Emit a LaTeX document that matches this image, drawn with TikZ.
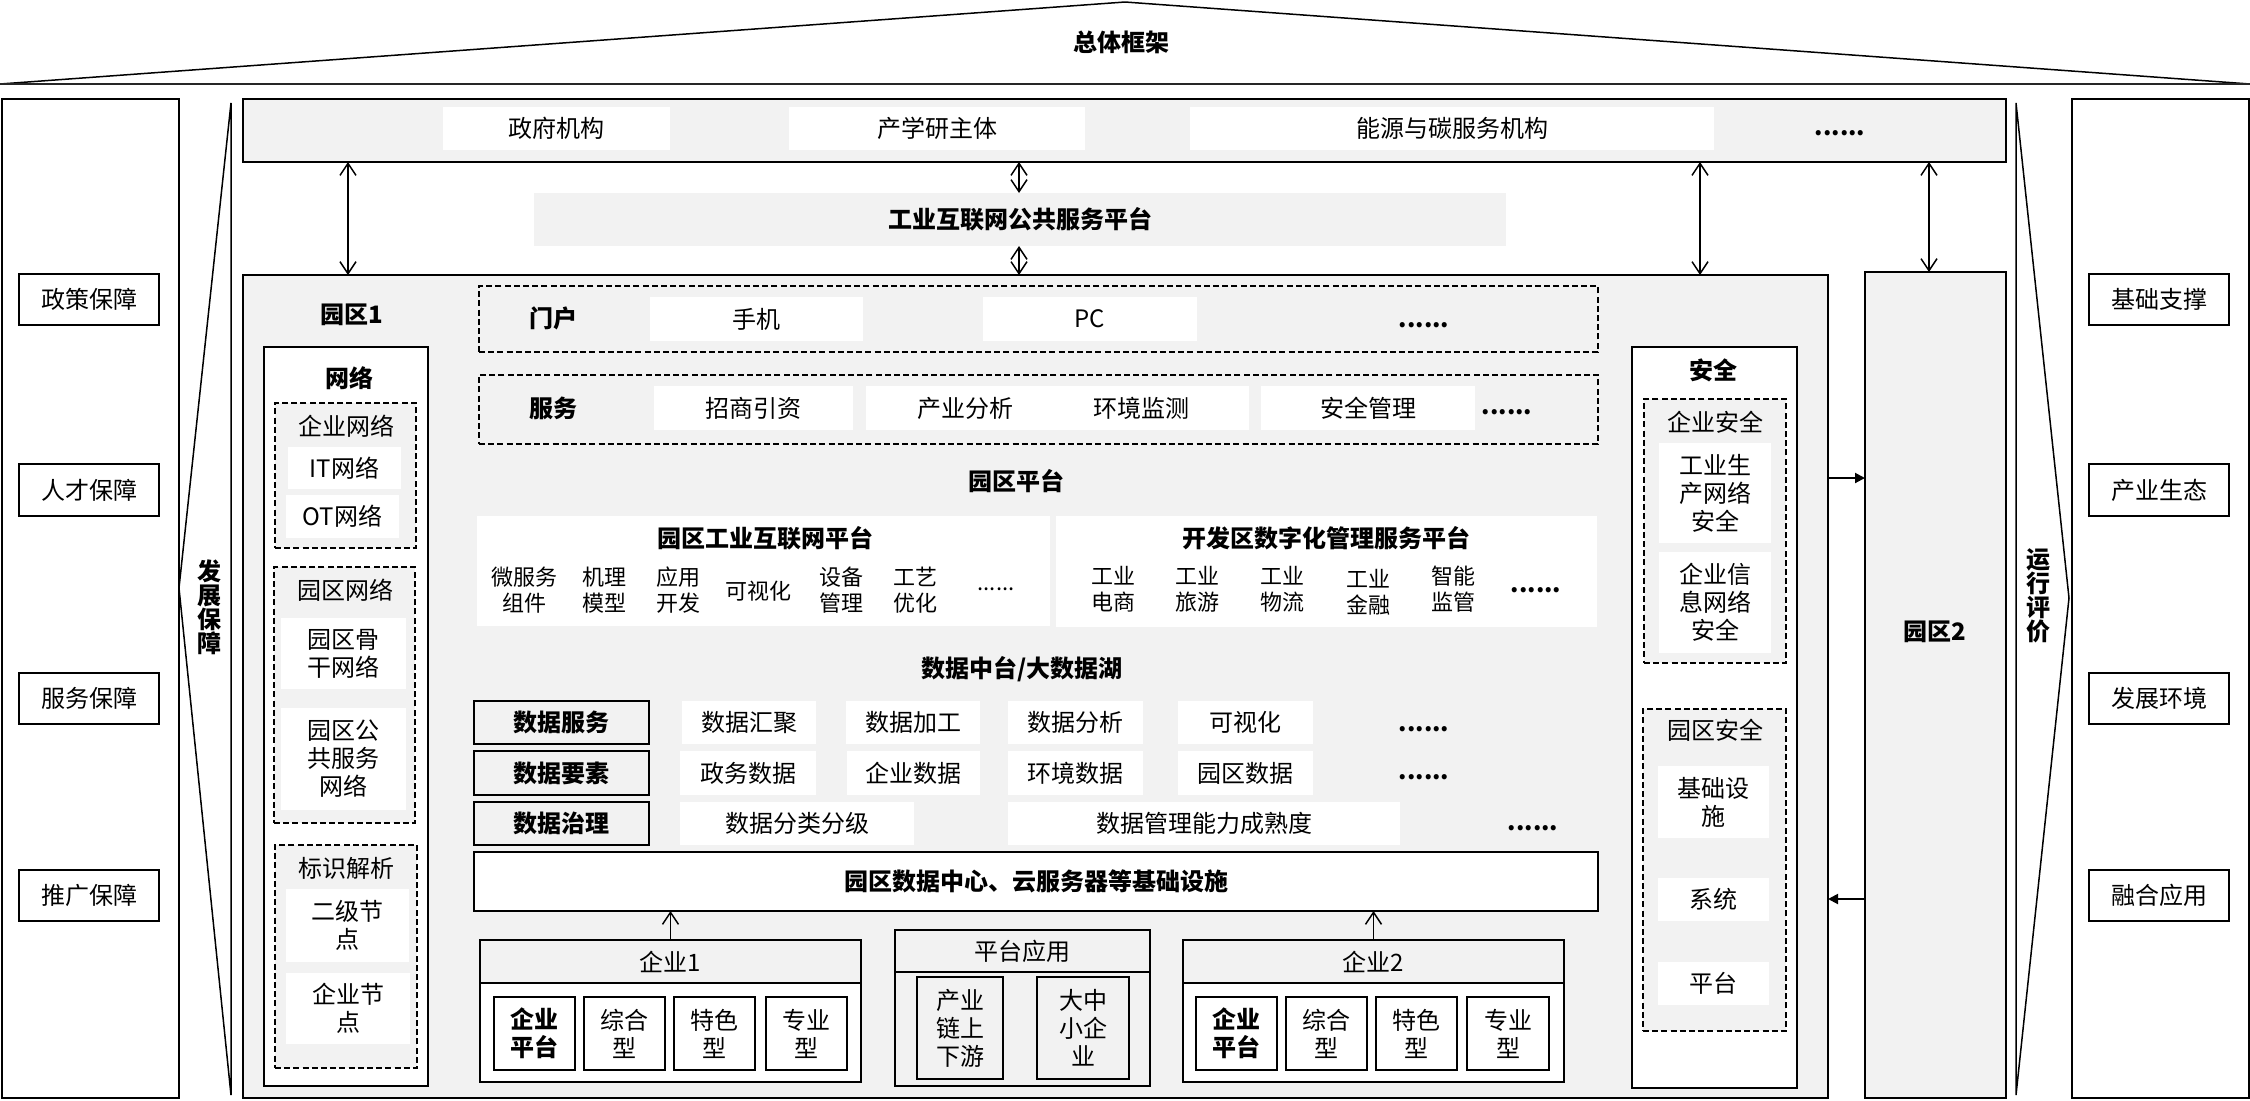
\documentclass[tikz,border=0pt]{standalone}
\usepackage{fontspec}
\setmainfont{Noto Sans CJK SC}
\usetikzlibrary{arrows.meta}
\definecolor{g2}{HTML}{F2F2F2}
\newcommand\myfs{\fontsize{12pt}{14pt}\selectfont}
\newcommand\mysfs{\fontsize{11pt}{13pt}\selectfont}
\newcommand\rb[7]{\node[#1, minimum width={(#5-#3)*0.5pt}, minimum height={(#6-#4)*0.5pt}] (#2) at ({(#3+#5)/2},{(#4+#6)/2}) {#7};}
\tikzset{
  every node/.style={inner sep=0pt, outer sep=0pt},
  wbox/.style={fill=white, align=center, font=\myfs},
  gfill/.style={fill=g2, align=center, font=\myfs},
  gbox/.style={fill=g2, draw=black, line width=1pt, align=center, font=\myfs},
  obox/.style={fill=white, draw=black, line width=1pt, align=center, font=\myfs},
  hbox/.style={draw=black, line width=1pt, align=center, font=\myfs},
  lbox/.style={fill=g2, draw=black, line width=1pt, align=center, font=\myfs\bfseries},
  dbox/.style={fill=g2, draw=black, line width=0.75pt, dash pattern=on 3pt off 1.6pt},
  ttl/.style={font=\myfs\bfseries, align=center},
  lbl/.style={font=\myfs, align=center},
  itm/.style={font=\mysfs, align=center},
  dots/.style={font=\myfs\bfseries},
  dbl/.style={{Straight Barb[length=6pt,width=8pt]}-{Straight Barb[length=6pt,width=8pt]}, line width=0.75pt},
  sarr/.style={-{Straight Barb[length=6pt,width=8pt]}, line width=0.75pt},
  farr/.style={-{Triangle[length=5pt,width=5pt]}, line width=1pt},
}
\begin{document}
\begin{tikzpicture}[x=0.5pt,y=-0.5pt]
\useasboundingbox (0,0) rectangle (2250,1100);
% roof
\draw[line width=0.75pt, line join=bevel] (0,84) -- (1125,2) -- (2250,84);
\draw[line width=1pt, black!85] (0,84) -- (2250,84);
\node[ttl] (title) at (1121,42) {总体框架};

% left column
\rb{obox}{leftcol}{2}{99}{179}{1098}{}
\rb{obox}{gA}{19}{274}{159}{325}{政策保障}
\rb{obox}{gB}{19}{464}{159}{516}{人才保障}
\rb{obox}{gC}{19}{673}{159}{724}{服务保障}
\rb{obox}{gD}{19}{870}{159}{921}{推广保障}
\draw[line width=0.75pt, line join=bevel] (231,103) -- (179,588) -- (231,1095) -- cycle;
\node[ttl, font=\fontsize{12pt}{12pt}\selectfont\bfseries] (devg) at (209,607) {发\\展\\保\\障};

% right column
\rb{obox}{rightcol}{2072}{99}{2249}{1098}{}
\rb{obox}{rA}{2089}{274}{2229}{325}{基础支撑}
\rb{obox}{rB}{2089}{464}{2229}{516}{产业生态}
\rb{obox}{rC}{2089}{673}{2229}{724}{发展环境}
\rb{obox}{rD}{2089}{870}{2229}{921}{融合应用}
\draw[line width=0.75pt, line join=bevel] (2016,103) -- (2069,598) -- (2016,1095) -- cycle;
\node[ttl, font=\fontsize{12pt}{12pt}\selectfont\bfseries] (opev) at (2038,596) {运\\行\\评\\价};

% top box
\rb{gbox}{topbox}{243}{99}{2006}{162}{}
\rb{wbox}{gov}{443}{107}{670}{150}{政府机构}
\rb{wbox}{iur}{789}{107}{1085}{150}{产学研主体}
\rb{wbox}{energy}{1190}{107}{1714}{150}{能源与碳服务机构}
\node[dots] (topdots) at (1840,133) {......};

% band
\rb{gfill}{band}{534}{193}{1506}{246}{\bfseries 工业互联网公共服务平台}

% park 1 and park 2
\rb{gbox}{park1}{243}{275}{1828}{1098}{}
\node[ttl] (park1lbl) at (352,315) {园区1};
\rb{gbox}{park2}{1865}{272}{2006}{1098}{}
\node[ttl] (park2lbl) at (1935,632) {园区2};

% arrows top
\path (348,0) coordinate (ax1) (1019,0) coordinate (ax2) (1700,0) coordinate (ax3) (1929,0) coordinate (ax4);
\path (0,478) coordinate (ay1) (0,899) coordinate (ay2);
\draw[dbl] (ax1 |- topbox.south) -- (ax1 |- park1.north);
\draw[dbl] (ax2 |- topbox.south) -- (ax2 |- band.north);
\draw[dbl] (ax2 |- band.south) -- (ax2 |- park1.north);
\draw[dbl] (ax3 |- topbox.south) -- (ax3 |- park1.north);
\draw[dbl] (ax4 |- topbox.south) -- (ax4 |- park2.north);
\draw[farr] (ay1 -| park1.east) -- (ay1 -| park2.west);
\draw[farr] (ay2 -| park2.west) -- (ay2 -| park1.east);

% network column
\rb{obox}{netbox}{264}{347}{428}{1086}{}
\node[ttl] (netlbl) at (349,378) {网络};
\rb{dbox}{entnet}{275}{403}{416}{548}{}
\node[lbl] (entnetlbl) at (346,426) {企业网络};
\rb{wbox}{itnet}{288}{447}{401}{489}{IT网络}
\rb{wbox}{otnet}{286}{495}{399}{538}{OT网络}
\rb{dbox}{parknet}{274}{567}{415}{823}{}
\node[lbl] (parknetlbl) at (345,590) {园区网络};
\rb{wbox}{backbone}{281}{618}{406}{689}{园区骨\\干网络}
\rb{wbox}{pubnet}{281}{708}{406}{810}{园区公\\共服务\\网络}
\rb{dbox}{ident}{275}{845}{417}{1068}{}
\node[lbl] (identlbl) at (346,868) {标识解析};
\rb{wbox}{node2}{286}{889}{409}{962}{二级节\\点}
\rb{wbox}{nodeE}{286}{973}{410}{1044}{企业节\\点}

% portal
\rb{dbox}{portal}{479}{286}{1598}{352}{}
\node[ttl] (portallbl) at (553,318) {门户};
\rb{wbox}{mobile}{650}{297}{863}{341}{手机}
\rb{wbox}{pc}{983}{297}{1197}{341}{PC}
\node[dots] (portaldots) at (1424,325) {......};

% service
\rb{dbox}{service}{479}{375}{1598}{444}{}
\node[ttl] (servicelbl) at (553,408) {服务};
\rb{wbox}{invest}{654}{386}{853}{430}{招商引资}
\rb{wbox}{anaenv}{866}{386}{1249}{430}{}
\node[lbl] (indana) at (965,408) {产业分析};
\node[lbl] (envmon) at (1141,408) {环境监测};
\rb{wbox}{safemg}{1261}{386}{1475}{430}{安全管理}
\node[dots] (servicedots) at (1507,412) {......};

% park platform
\node[ttl] (parkplat) at (1016,481) {园区平台};
\rb{wbox}{iiot}{477}{516}{1050}{626}{}
\node[ttl] (iiotlbl) at (765,538) {园区工业互联网平台};
\node[itm] (i1) at (524,590) {微服务\\组件};
\node[itm] (i2) at (604,590) {机理\\模型};
\node[itm] (i3) at (678,590) {应用\\开发};
\node[itm] (i4) at (758,591) {可视化};
\node[itm] (i5) at (841,590) {设备\\管理};
\node[itm] (i6) at (915,590) {工艺\\优化};
\node[itm] (i7) at (996,589) {......};
\rb{wbox}{dev}{1056}{516}{1597}{627}{}
\node[ttl] (devlbl) at (1326,538) {开发区数字化管理服务平台};
\node[itm] (d1) at (1113,589) {工业\\电商};
\node[itm] (d2) at (1197,589) {工业\\旅游};
\node[itm] (d3) at (1282,589) {工业\\物流};
\node[itm] (d4) at (1368,592) {工业\\金融};
\node[itm] (d5) at (1453,589) {智能\\监管};
\node[dots] (d6) at (1536,590) {......};

% data middle platform
\node[ttl] (datalake) at (1022,669) {数据中台/大数据湖};
\rb{lbox}{dsvc}{474}{701}{649}{744}{数据服务}
\rb{lbox}{delem}{474}{751}{649}{795}{数据要素}
\rb{lbox}{dgov}{474}{802}{649}{845}{数据治理}
\rb{wbox}{r1a}{682}{701}{816}{744}{数据汇聚}
\rb{wbox}{r1b}{846}{701}{980}{744}{数据加工}
\rb{wbox}{r1c}{1008}{701}{1143}{744}{数据分析}
\rb{wbox}{r1d}{1178}{701}{1313}{744}{可视化}
\node[dots] (r1e) at (1424,729) {......};
\rb{wbox}{r2a}{680}{751}{816}{795}{政务数据}
\rb{wbox}{r2b}{847}{751}{980}{795}{企业数据}
\rb{wbox}{r2c}{1008}{751}{1143}{795}{环境数据}
\rb{wbox}{r2d}{1178}{751}{1313}{795}{园区数据}
\node[dots] (r2e) at (1424,777) {......};
\rb{wbox}{r3a}{680}{802}{914}{845}{数据分类分级}
\rb{wbox}{r3b}{1008}{802}{1400}{845}{数据管理能力成熟度}
\node[dots] (r3e) at (1533,828) {......};
\rb{obox}{infra}{474}{852}{1598}{911}{\bfseries 园区数据中心、云服务器等基础设施}

% enterprise 1
\rb{hbox}{e1h}{480}{940}{861}{983}{企业1}
\rb{obox}{e1b}{480}{983}{861}{1082}{}
\rb{obox}{e1a}{494}{997}{575}{1070}{\bfseries 企业\\\bfseries 平台}
\rb{obox}{e1c}{584}{997}{665}{1070}{综合\\型}
\rb{obox}{e1d}{674}{997}{755}{1070}{特色\\型}
\rb{obox}{e1e}{766}{997}{847}{1070}{专业\\型}
% platform application
\rb{gbox}{pah}{895}{930}{1150}{972}{平台应用}
\rb{gbox}{pab}{895}{972}{1150}{1086}{}
\rb{gbox}{pa1}{917}{977}{1003}{1079}{产业\\链上\\下游}
\rb{gbox}{pa2}{1037}{977}{1129}{1079}{大中\\小企\\业}
% enterprise 2
\rb{hbox}{e2h}{1183}{940}{1564}{983}{企业2}
\rb{obox}{e2b}{1183}{983}{1564}{1082}{}
\rb{obox}{e2a}{1196}{997}{1277}{1070}{\bfseries 企业\\\bfseries 平台}
\rb{obox}{e2c}{1286}{997}{1367}{1070}{综合\\型}
\rb{obox}{e2d}{1376}{997}{1457}{1070}{特色\\型}
\rb{obox}{e2e}{1467}{997}{1549}{1070}{专业\\型}
\draw[sarr] (e1h.north) -- (e1h.north |- infra.south);
\draw[sarr] (e2h.north) -- (e2h.north |- infra.south);

% security column
\rb{obox}{secbox}{1632}{347}{1797}{1088}{}
\node[ttl] (seclbl) at (1713,370) {安全};
\rb{dbox}{entsec}{1644}{399}{1786}{663}{}
\node[lbl] (entseclbl) at (1715,422) {企业安全};
\rb{wbox}{prodsec}{1659}{443}{1771}{543}{工业生\\产网络\\安全}
\rb{wbox}{infosec}{1659}{552}{1771}{653}{企业信\\息网络\\安全}
\rb{dbox}{parksec}{1643}{709}{1786}{1031}{}
\node[lbl] (parkseclbl) at (1715,730) {园区安全};
\rb{wbox}{infsec}{1658}{766}{1769}{838}{基础设\\施}
\rb{wbox}{syssec}{1658}{878}{1769}{921}{系统}
\rb{wbox}{platsec}{1658}{962}{1769}{1005}{平台}
\end{tikzpicture}
\end{document}
